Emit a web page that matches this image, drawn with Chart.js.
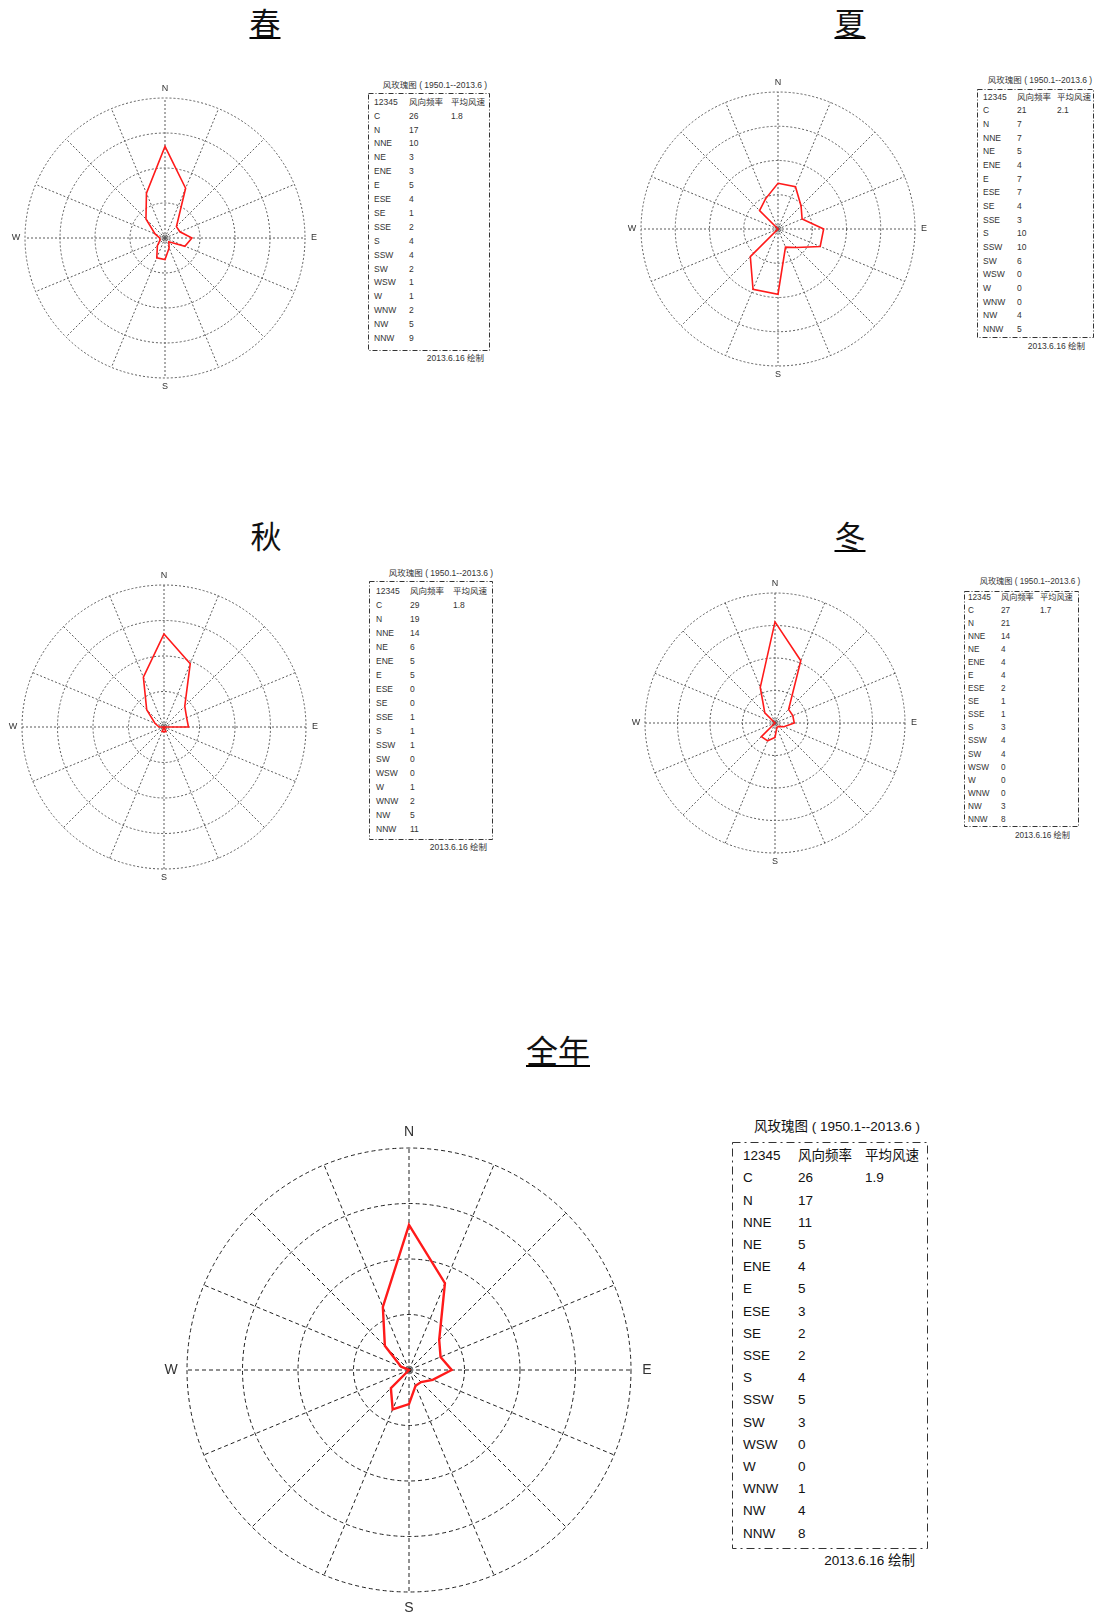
<!DOCTYPE html>
<html><head><meta charset="utf-8">
<script src="https://cdn.jsdelivr.net/npm/chart.js@4.4.1/dist/chart.umd.min.js"></script>
<style>
html,body{margin:0;padding:0;background:#fff;}
body{width:1095px;height:1615px;position:relative;overflow:hidden;font-family:"Liberation Sans","Noto Sans CJK SC",sans-serif;}
.title{position:absolute;font-family:"Noto Sans CJK SC",sans-serif;color:#111;transform:translateX(-50%);white-space:nowrap;}
.ul{border-bottom:2px solid #000;}
.abs{position:absolute;white-space:pre;}
canvas{position:absolute;}
svg{position:absolute;left:0;top:0;}
</style></head><body>
<script>
// ---------------- data ----------------
const directions = ['N','NNE','NE','ENE','E','ESE','SE','SSE','S','SSW','SW','WSW','W','WNW','NW','NNW'];
const springFreq = [17,10,3,3,5,4,1,2,4,4,2,1,1,2,5,9];
const summerFreq = [7,7,5,4,7,7,4,3,10,10,6,0,0,0,4,5];
const autumnFreq = [19,14,6,5,5,0,0,1,1,1,0,0,1,2,5,11];
const winterFreq = [21,14,4,4,4,2,1,1,3,4,4,0,0,0,3,8];
const annualFreq = [17,11,5,4,5,3,2,2,4,5,3,0,0,1,4,8];
const calmValues = [26,21,29,27,26];
const meanSpeeds = ['1.8','2.1','1.8','1.7','1.9'];
const seasonNames = ['春','夏','秋','冬','全年'];
const cardinalLabels = ['N','E','S','W'];
const legendHeader = ['12345','风向频率','平均风速'];
const legendTitle = '风玫瑰图 ( 1950.1--2013.6 )';
const legendFooter = '2013.6.16 绘制';
const allFreq = [springFreq, summerFreq, autumnFreq, winterFreq, annualFreq];

// ---------------- layout (positions / styles only) ----------------
const titleLayouts = [
  {x:265, y:6, fs:31, ul:true},
  {x:850, y:6, fs:31, ul:true},
  {x:266, y:519, fs:31, ul:false},
  {x:850, y:519, fs:31, ul:true},
  {x:558, y:1033, fs:32, ul:true}
];
const roseLayouts = [
  {cx:165, cy:238, r:140, lw:1.6, dash:[2,2], gc:'#5a5a5a', lfs:9, loff:9, cr:3},
  {cx:778, cy:229, r:137, lw:1.6, dash:[2,2], gc:'#5a5a5a', lfs:9, loff:9, cr:3},
  {cx:164, cy:727, r:142, lw:1.6, dash:[2,2], gc:'#5a5a5a', lfs:9, loff:9, cr:3},
  {cx:775, cy:723, r:130, lw:1.6, dash:[2,2], gc:'#5a5a5a', lfs:9, loff:9, cr:3},
  {cx:409, cy:1370, r:222, lw:2.4, dash:[4,3], gc:'#222', lfs:14, loff:16, cr:4}
];
const legendLayouts = [
  {tx:435, ty:85, box:[368,93,489,350], y0:102, dy:13.9, cols:[374,409,451], fr:484, fy:358, fs:8.5, da:'5 2 1 2'},
  {tx:1040, ty:80, box:[977,89,1093,337], y0:97, dy:13.65, cols:[983,1017,1057], fr:1085, fy:346, fs:8.5, da:'5 2 1 2'},
  {tx:441, ty:573, box:[369,581,492,839], y0:591, dy:14, cols:[376,410,453], fr:487, fy:847, fs:8.5, da:'5 2 1 2'},
  {tx:1030, ty:582, box:[964,591,1078,826], y0:598, dy:13.05, cols:[968,1001,1040], fr:1070, fy:836, fs:8.2, da:'5 2 1 2'},
  {tx:837, ty:1127, box:[732,1142,927,1548], y0:1156, dy:22.2, cols:[743,798,865], fr:915, fy:1561, fs:13.5, da:'8 4 2 4'}
];

// ---------------- titles ----------------
seasonNames.forEach((name, i) => {
  const L = titleLayouts[i];
  const d = document.createElement('div');
  d.className = 'title' + (L.ul ? ' ul' : '');
  d.style.left = L.x + 'px';
  d.style.top = L.y + 'px';
  d.style.fontSize = L.fs + 'px';
  d.style.lineHeight = L.fs + 'px';
  d.textContent = name;
  document.body.appendChild(d);
});

// ---------------- legends ----------------
const svgNS = 'http://www.w3.org/2000/svg';
const svg = document.createElementNS(svgNS, 'svg');
svg.setAttribute('width', 1095); svg.setAttribute('height', 1615);
document.body.appendChild(svg);

function addText(txt, x, y, fs, align, color) {
  const d = document.createElement('div');
  d.className = 'abs';
  d.style.fontSize = fs + 'px';
  d.style.lineHeight = fs + 'px';
  d.style.top = (y - fs / 2) + 'px';
  d.style.left = x + 'px';
  d.style.color = color || '#222';
  if (align === 'center') d.style.transform = 'translateX(-50%)';
  if (align === 'right') d.style.transform = 'translateX(-100%)';
  d.textContent = txt;
  document.body.appendChild(d);
}

legendLayouts.forEach((L, i) => {
  const [x1, y1, x2, y2] = L.box;
  const rect = document.createElementNS(svgNS, 'rect');
  rect.setAttribute('x', x1 + 0.5); rect.setAttribute('y', y1 + 0.5);
  rect.setAttribute('width', x2 - x1); rect.setAttribute('height', y2 - y1);
  rect.setAttribute('fill', 'none'); rect.setAttribute('stroke', '#333');
  rect.setAttribute('stroke-width', 1); rect.setAttribute('stroke-dasharray', L.da);
  svg.appendChild(rect);
  const col = i === 4 ? '#111' : '#333';
  addText(legendTitle, L.tx, L.ty, L.fs, 'center', col);
  const rows = [legendHeader, ['C', String(calmValues[i]), meanSpeeds[i]]];
  directions.forEach((dname, k) => rows.push([dname, String(allFreq[i][k]), '']));
  rows.forEach((row, r) => {
    row.forEach((cell, c) => { if (cell) addText(cell, L.cols[c], L.y0 + r * L.dy, L.fs, 'left', col); });
  });
  addText(legendFooter, L.fr, L.fy, L.fs, 'right', col);
});

// ---------------- roses ----------------
const rosePlugin = {
  id: 'rose',
  beforeDatasetsDraw(chart) {
    const sc = chart.scales.r, L = chart.config.options.roseLayout, ctx = chart.ctx;
    ctx.save();
    ctx.strokeStyle = '#777'; ctx.lineWidth = 1;
    ctx.beginPath(); ctx.arc(sc.xCenter, sc.yCenter, L.cr, 0, Math.PI * 2); ctx.stroke();
    ctx.restore();
  },
  afterDraw(chart) {
    const sc = chart.scales.r, L = chart.config.options.roseLayout, ctx = chart.ctx;
    ctx.save();
    ctx.fillStyle = '#333';
    ctx.font = L.lfs + 'px "Liberation Sans", sans-serif';
    ctx.textAlign = 'center'; ctx.textBaseline = 'middle';
    directions.forEach((d, idx) => {
      if (cardinalLabels.includes(d)) {
        const p = sc.getPointPosition(idx, sc.drawingArea + L.loff);
        ctx.fillText(d, p.x, p.y);
      }
    });
    ctx.restore();
  }
};

const pad = 30;
roseLayouts.forEach((L, i) => {
  const size = 2 * L.r + 2 * pad;
  const cv = document.createElement('canvas');
  cv.width = size; cv.height = size;
  cv.style.width = size + 'px'; cv.style.height = size + 'px';
  cv.style.left = (L.cx - L.r - pad) + 'px';
  cv.style.top = (L.cy - L.r - pad) + 'px';
  document.body.appendChild(cv);
  new Chart(cv, {
    type: 'radar',
    data: { labels: directions, datasets: [{ data: allFreq[i], borderColor: '#ff1a1a', borderWidth: L.lw, fill: false, pointRadius: 0, pointHoverRadius: 0, tension: 0, borderJoinStyle: 'miter' }] },
    options: {
      responsive: false, animation: false, devicePixelRatio: 1,
      roseLayout: L,
      layout: { padding: pad },
      plugins: { legend: { display: false }, tooltip: { enabled: false } },
      scales: { r: {
        min: 0, max: calmValues[i],
        ticks: { display: false, count: 5 },
        pointLabels: { display: false },
        grid: { color: L.gc, lineWidth: 1, circular: true },
        border: { dash: L.dash },
        angleLines: { display: true, color: L.gc, lineWidth: 1, borderDash: L.dash }
      } }
    },
    plugins: [rosePlugin]
  });
});
</script>
</body></html>
